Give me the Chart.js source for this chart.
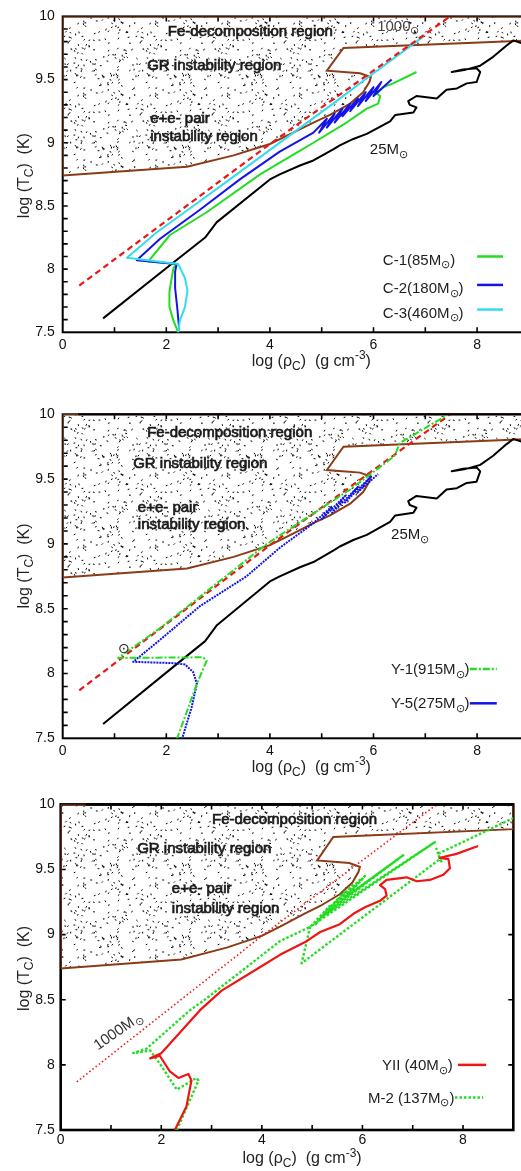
<!DOCTYPE html>
<html>
<head>
<meta charset="utf-8">
<title>log rho_c - log T_c tracks</title>
<script src="https://cdn.jsdelivr.net/npm/chart.js@4.4.1/dist/chart.umd.min.js"></script>
<style>
  html, body { margin: 0; padding: 0; background: #fff; }
  body { width: 521px; height: 1171px; overflow: hidden; position: relative; }
  canvas { position: absolute; left: 0; }
</style>
</head>
<body>
<canvas id="panel1" width="540" height="380" style="top:0px"></canvas>
<canvas id="panel2" width="540" height="410" style="top:380px"></canvas>
<canvas id="panel3" width="521" height="381" style="top:790px"></canvas>
<script>
// ============================================
// DATA
// ============================================

const xTickLabels = [0, 2, 4, 6, 8];
const yTickLabels = [7.5, 8, 8.5, 9, 9.5, 10];

// brown boundary of the dotted (unstable) region
const regionX = [0, 2.4, 3.3, 4.0, 4.4, 4.84, 5.16, 5.55, 5.8, 5.92, 5.95, 5.74, 5.1, 5.42, 9.0];
const regionY = [8.74, 8.81, 8.9, 8.99, 9.07, 9.16, 9.22, 9.31, 9.4, 9.48, 9.52, 9.55, 9.57, 9.75, 9.81];

// 1000 Msun reference track (red)
const refX = [0.32, 4.0, 7.48];
const refY = [7.87, 8.99, 10.0];

// 25 Msun track (black), panels 1 and 2
const m25X = [0.78, 2.07, 2.75, 2.97, 4.0, 4.19, 4.58, 4.84, 5.23, 5.35, 5.61, 5.87, 6.32, 6.42, 6.77, 6.83, 6.70, 6.67, 6.83, 7.22, 7.41, 7.61, 7.80, 7.99, 8.06, 7.99, 7.73, 7.51, 7.75, 8.06, 8.31, 8.57, 8.70, 8.85];
const m25Y = [7.61, 8.03, 8.25, 8.37, 8.71, 8.75, 8.82, 8.86, 8.95, 8.98, 9.03, 9.07, 9.17, 9.22, 9.24, 9.28, 9.30, 9.33, 9.37, 9.35, 9.42, 9.43, 9.47, 9.48, 9.56, 9.59, 9.58, 9.56, 9.575, 9.61, 9.68, 9.77, 9.81, 9.79];

// panel 1
const c1X = [2.23, 2.14, 2.06, 2.06, 2.10, 2.14, 2.20, 1.65, 2.07, 2.78, 3.81, 4.55, 4.84, 5.48, 5.87, 6.09, 6.13, 6.06, 6.19, 6.38, 6.83];
const c1Y = [7.50, 7.59, 7.70, 7.82, 7.92, 8.01, 8.04, 8.06, 8.27, 8.45, 8.75, 8.93, 9.00, 9.16, 9.27, 9.31, 9.37, 9.39, 9.44, 9.47, 9.56];
const c2X = [2.25, 2.21, 2.17, 2.17, 2.20, 1.43, 1.88, 2.65, 3.42, 4.19, 4.84, 5.10, 4.95, 5.25, 5.10, 5.40, 5.25, 5.55, 5.40, 5.70, 5.55, 5.85, 5.70, 6.00, 5.85, 6.15, 6.00, 6.35];
const c2Y = [7.52, 7.70, 7.85, 7.98, 8.04, 8.07, 8.24, 8.47, 8.71, 8.93, 9.08, 9.19, 9.08, 9.23, 9.12, 9.27, 9.16, 9.31, 9.21, 9.35, 9.25, 9.40, 9.29, 9.44, 9.33, 9.48, 9.37, 9.50];
const c3X = [2.23, 2.26, 2.36, 2.41, 2.36, 2.23, 1.24, 1.81, 2.52, 3.29, 4.39, 5.22, 5.87, 6.96];
const c3Y = [7.49, 7.59, 7.70, 7.83, 7.93, 8.04, 8.09, 8.29, 8.50, 8.73, 9.06, 9.31, 9.51, 9.84];

// panel 2
const y1X = [2.20, 2.59, 2.78, 2.71, 1.07, 1.88, 3.94, 5.55, 6.38, 6.42, 6.51, 7.41];
const y1Y = [7.49, 7.92, 8.10, 8.125, 8.12, 8.35, 9.00, 9.42, 9.67, 9.69, 9.78, 9.99];
const y5X = [2.30, 2.49, 2.59, 2.52, 2.36, 2.14, 1.36, 1.88, 2.65, 3.55, 4.19, 4.84, 5.2, 5.0, 5.45, 5.2, 5.7, 5.45, 5.95, 5.7, 6.09];
const y5Y = [7.49, 7.74, 7.92, 8.01, 8.07, 8.08, 8.09, 8.26, 8.52, 8.75, 8.97, 9.16, 9.29, 9.19, 9.37, 9.24, 9.44, 9.32, 9.52, 9.40, 9.54];

// panel 3
const yiiX = [2.27, 2.5, 2.6, 2.54, 2.34, 2.17, 1.97, 1.78, 2.0, 2.77, 3.2, 3.96, 4.36, 4.89, 5.16, 5.55, 5.82, 6.05, 6.35, 6.48, 6.45, 6.35, 6.48, 6.88, 7.08, 7.34, 7.61, 7.74, 7.71, 7.54, 7.87, 8.30];
const yiiY = [7.50, 7.68, 7.88, 7.93, 7.90, 7.95, 8.07, 8.05, 8.09, 8.42, 8.57, 8.75, 8.845, 8.95, 9.02, 9.08, 9.16, 9.21, 9.26, 9.30, 9.35, 9.38, 9.42, 9.44, 9.41, 9.42, 9.46, 9.51, 9.58, 9.59, 9.62, 9.68];
const m2X = [2.31, 2.74, 2.70, 2.31, 1.97, 1.78, 1.44, 1.71, 2.57, 2.83, 4.36, 4.96, 5.35, 5.05, 5.5, 5.15, 5.65, 5.3, 5.8, 5.45, 5.95, 5.6, 6.05, 5.7, 6.71, 5.5, 6.81, 5.2, 7.44, 4.96, 4.79, 7.54, 7.47, 7.58, 7.50, 9.0];
const m2Y = [7.50, 7.88, 7.90, 7.81, 8.01, 8.11, 8.09, 8.125, 8.42, 8.49, 8.95, 9.06, 9.22, 9.07, 9.27, 9.12, 9.33, 9.16, 9.38, 9.22, 9.42, 9.27, 9.45, 9.30, 9.58, 9.24, 9.61, 9.14, 9.71, 9.06, 8.78, 9.58, 9.66, 9.55, 9.62, 9.895];

// ============================================
// STYLE
// ============================================

const FONT = '"Liberation Sans", Arial, Helvetica, sans-serif';
const BROWN = '#8b3b16';
const GREEN = '#22dd22';
const BLUE = '#1414e6';
const CYAN = '#33dcee';
const RED = '#ee1515';
const SUN = '\u2299';

function pts(xs, ys) {
    return xs.map((x, i) => ({ x: x, y: ys[i] }));
}

function track(xs, ys, color, width, dash, order) {
    return {
        data: pts(xs, ys),
        borderColor: color,
        borderWidth: width,
        borderDash: dash || [],
        borderJoinStyle: 'round',
        pointRadius: 0,
        fill: false,
        order: order || 0
    };
}

// random-looking stipple texture for the unstable region (seeded, so it is always the same)
function makeStipple() {
    const tile = document.createElement('canvas');
    tile.width = 72;
    tile.height = 72;
    const g = tile.getContext('2d');
    g.strokeStyle = '#000';
    g.lineWidth = 1;
    let seed = 20240;
    const rnd = () => (seed = (seed * 16807) % 2147483647) / 2147483647;
    for (let i = 0; i < 140; i++) {
        const x = rnd() * 72, y = rnd() * 72, a = rnd() * Math.PI;
        g.beginPath();
        g.moveTo(x, y);
        g.lineTo(x + 1.8 * Math.cos(a), y + 1.8 * Math.sin(a));
        g.stroke();
    }
    return g.createPattern(tile, 'repeat');
}
const stipple = makeStipple();

function regionSet() {
    return {
        data: pts(regionX.concat([9, 0, 0]), regionY.concat([10, 10, regionY[0]])),
        borderColor: BROWN,
        borderWidth: 2,
        backgroundColor: stipple,
        fill: 'shape',
        pointRadius: 0,
        order: 20
    };
}

// ============================================
// TEXT WITH SUB / SUPERSCRIPTS
// ============================================

function drawRich(ctx, text, x, y, size, align, heavy) {
    const parts = text.match(/_\{[^}]*\}|\^\{[^}]*\}|[^_^]+/g).map(s => {
        if (s[0] === '_') return { t: s.slice(2, -1), mode: 1 };
        if (s[0] === '^') return { t: s.slice(2, -1), mode: 2 };
        return { t: s, mode: 0 };
    });
    const fontOf = p => (p.mode ? Math.round(size * 0.75) : size) + 'px ' + FONT;
    let w = 0;
    parts.forEach(p => { ctx.font = fontOf(p); w += ctx.measureText(p.t).width; });
    let cx = align === 'center' ? x - w / 2 : (align === 'right' ? x - w : x);
    parts.forEach(p => {
        ctx.font = fontOf(p);
        const dy = p.mode === 1 ? size * 0.32 : (p.mode === 2 ? -size * 0.35 : 0);
        ctx.fillText(p.t, cx, y + dy);
        if (heavy) {
            ctx.lineWidth = 0.7;
            ctx.strokeStyle = ctx.fillStyle;
            ctx.strokeText(p.t, cx, y + dy);
        }
        cx += ctx.measureText(p.t).width;
    });
}

// ============================================
// PLUGINS: FRAME WITH INWARD TICKS, LABELS
// ============================================

const framePlugin = {
    id: 'frame',
    beforeDatasetsDraw(chart, args, o) {
        const ctx = chart.ctx, a = chart.chartArea;
        const xs = chart.scales.x, ys = chart.scales.y;
        ctx.save();
        ctx.strokeStyle = '#000';
        ctx.lineWidth = 1.6;
        ctx.beginPath();
        for (let v = 1; v < xs.max; v++) {
            const px = xs.getPixelForValue(v);
            ctx.moveTo(px, a.bottom);
            ctx.lineTo(px, a.bottom - 5);
            ctx.moveTo(px, a.top);
            ctx.lineTo(px, a.top + 5);
        }
        const step = o.minorY ? 0.1 : 0.5;
        for (let v = ys.min + step; v < ys.max - 1e-6; v += step) {
            const py = ys.getPixelForValue(v);
            ctx.moveTo(a.left, py);
            ctx.lineTo(a.left + 5, py);
            ctx.moveTo(a.right, py);
            ctx.lineTo(a.right - 5, py);
        }
        ctx.stroke();
        ctx.lineWidth = o.width;
        ctx.strokeRect(a.left, a.top, a.right - a.left, a.bottom - a.top);
        ctx.restore();
    },
    afterDatasetsDraw(chart, args, o) {
        if (!o.topOver) return;
        const ctx = chart.ctx, a = chart.chartArea;
        ctx.save();
        ctx.strokeStyle = '#000';
        ctx.lineWidth = o.width;
        ctx.beginPath();
        ctx.moveTo(o.topFrom ? chart.scales.x.getPixelForValue(o.topFrom) : a.left, a.top);
        ctx.lineTo(a.right, a.top);
        ctx.stroke();
        ctx.restore();
    }
};

const annotatePlugin = {
    id: 'annotate',
    afterDatasetsDraw(chart, args, o) {
        const ctx = chart.ctx, a = chart.chartArea;
        const xs = chart.scales.x, ys = chart.scales.y;
        ctx.save();
        ctx.textBaseline = 'middle';

        (o.labels || []).forEach(l => {
            ctx.save();
            ctx.translate(xs.getPixelForValue(l.x), ys.getPixelForValue(l.y));
            if (l.angle) ctx.rotate(l.angle * Math.PI / 180);
            ctx.fillStyle = l.color || '#1a1a1a';
            drawRich(ctx, l.text, 0, 0, l.size || 15, l.align || 'left', l.heavy);
            ctx.restore();
        });

        (o.legend || []).forEach(item => {
            const py = ys.getPixelForValue(item.y);
            ctx.strokeStyle = item.color;
            ctx.lineWidth = item.width || 2.5;
            ctx.setLineDash(item.dash || []);
            ctx.beginPath();
            ctx.moveTo(xs.getPixelForValue(item.x1), py);
            ctx.lineTo(xs.getPixelForValue(item.x2), py);
            ctx.stroke();
            ctx.setLineDash([]);
            ctx.fillStyle = '#222';
            drawRich(ctx, item.text, xs.getPixelForValue(item.tx), py + (item.dy || 1), 15, 'left');
        });

        // axis titles
        ctx.fillStyle = '#222';
        drawRich(ctx, 'log (\u03c1_{C})  (g cm^{-3})', xs.getPixelForValue(o.xTitleAt), a.bottom + 29, 16, 'center');
        ctx.translate(25, ys.getPixelForValue(o.yTitleAt));
        ctx.rotate(-Math.PI / 2);
        drawRich(ctx, 'log (T_{C})  (K)', 0, 0, 16, 'center');
        ctx.restore();
    }
};

// ============================================
// PANEL FACTORY
// ============================================

function makePanel(id, box, datasets, notes, frame) {
    return new Chart(document.getElementById(id), {
        type: 'line',
        data: { datasets: datasets },
        options: {
            responsive: false,
            animation: false,
            events: [],
            layout: { padding: { top: box.top, right: box.right, left: 0, bottom: 0 } },
            plugins: {
                legend: { display: false },
                tooltip: { enabled: false },
                annotate: notes,
                frame: frame
            },
            scales: {
                x: {
                    type: 'linear',
                    min: 0,
                    max: 9,
                    grid: { display: false, drawTicks: false },
                    border: { display: false },
                    afterBuildTicks: s => { s.ticks = xTickLabels.map(v => ({ value: v })); },
                    afterFit: s => { s.height = box.xh; },
                    ticks: { padding: box.xpad, color: '#111', autoSkip: false, maxRotation: 0, font: { family: FONT, size: 14 }, callback: v => String(v) }
                },
                y: {
                    type: 'linear',
                    min: 7.5,
                    max: 10,
                    grid: { display: false, drawTicks: false },
                    border: { display: false },
                    afterBuildTicks: s => { s.ticks = yTickLabels.map(v => ({ value: v })); },
                    afterFit: s => { s.width = box.yw; },
                    ticks: { padding: box.ypad, color: '#111', autoSkip: false, font: { family: FONT, size: 14 }, callback: v => String(v) }
                }
            }
        },
        plugins: [framePlugin, annotatePlugin]
    });
}

const regionLabels = (fe, gr, pair, inst) => [
    { x: fe[0], y: fe[1], text: 'Fe-decomposition region', heavy: true },
    { x: gr[0], y: gr[1], text: 'GR instability region', heavy: true },
    { x: pair[0], y: pair[1], text: 'e+e- pair', heavy: true },
    { x: inst[0], y: inst[1], text: 'instability region', heavy: true }
];

// ----- 1. C models -----
makePanel('panel1',
    { top: 10, right: 11.1, xh: 47.7, yw: 62.7, xpad: 4, ypad: 8 },
    [
        regionSet(),
        track(m25X, m25Y, '#000', 2, null, 6),
        track(c1X, c1Y, GREEN, 2, null, 5),
        track(c2X, c2Y, BLUE, 2, null, 4),
        track(c3X, c3Y, CYAN, 2, null, 3),
        track(refX, refY, RED, 2.2, [6, 4], 2)
    ],
    {
        labels: regionLabels([2.03, 9.88], [1.63, 9.61], [1.69, 9.19], [1.69, 9.05]).concat([
            { x: 5.93, y: 8.94, text: '25M_{' + SUN + '}' },
            { x: 6.07, y: 9.92, text: '1000_{' + SUN + '}', color: '#444' }
        ]),
        legend: [
            { tx: 6.18, x1: 8.0, x2: 8.5, y: 8.10, dy: 4, text: 'C-1(85M_{' + SUN + '})', color: GREEN },
            { tx: 6.18, x1: 8.0, x2: 8.5, y: 7.875, dy: 4, text: 'C-2(180M_{' + SUN + '})', color: BLUE },
            { tx: 6.18, x1: 8.0, x2: 8.5, y: 7.68, dy: 4, text: 'C-3(460M_{' + SUN + '})', color: CYAN }
        ],
        xTitleAt: 4.8,
        yTitleAt: 8.74
    },
    { width: 2, minorY: true, topOver: false }
);

// ----- 2. Y models -----
makePanel('panel2',
    { top: 34.3, right: 11.1, xh: 51.7, yw: 62.7, xpad: 4, ypad: 8 },
    [
        regionSet(),
        track(m25X, m25Y, '#000', 2, null, 6),
        track(y5X, y5Y, BLUE, 2, [2, 1], 5),
        track(refX, refY, RED, 2.2, [6, 4], 4),
        track(y1X, y1Y, GREEN, 2, [7, 2, 2, 2], 3)
    ],
    {
        labels: regionLabels([1.63, 9.86], [1.36, 9.62], [1.45, 9.28], [1.45, 9.15]).concat([
            { x: 6.34, y: 9.07, text: '25M_{' + SUN + '}' },
            { x: 1.18, y: 8.19, text: SUN, size: 14, align: 'center' }
        ]),
        legend: [
            { tx: 6.34, x1: 7.86, x2: 8.38, y: 8.035, text: 'Y-1(915M_{' + SUN + '})', color: GREEN, dash: [7, 2, 2, 2] },
            { tx: 6.34, x1: 7.86, x2: 8.38, y: 7.77, text: 'Y-5(275M_{' + SUN + '})', color: BLUE }
        ],
        xTitleAt: 4.8,
        yTitleAt: 8.83
    },
    { width: 2, minorY: true, topOver: true, topFrom: 0.3 }
);

// ----- 3. YII and M-2 -----
makePanel('panel3',
    { top: 13, right: 7.7, xh: 41, yw: 60.7, xpad: 2, ypad: 6 },
    [
        regionSet(),
        track(refX, refY, RED, 1.6, [1.5, 2.5], 5),
        track(m2X, m2Y, GREEN, 2.4, [2.5, 2], 4),
        track(yiiX, yiiY, RED, 2.2, null, 3)
    ],
    {
        labels: regionLabels([3.01, 9.885], [1.52, 9.66], [2.21, 9.35], [2.21, 9.20]).concat([
            { x: 1.14, y: 8.257, text: '1000M_{' + SUN + '}', angle: -35, align: 'center', color: '#333' }
        ]),
        legend: [
            { tx: 6.39, x1: 7.9, x2: 8.46, y: 8.0, text: 'YII (40M_{' + SUN + '})', color: RED },
            { tx: 6.11, x1: 7.84, x2: 8.40, y: 7.75, text: 'M-2 (137M_{' + SUN + '})', color: GREEN, dash: [2.5, 2] }
        ],
        xTitleAt: 4.8,
        yTitleAt: 8.74
    },
    { width: 2.6, minorY: false, topOver: true, topFrom: 0.5 }
);
</script>
</body>
</html>
